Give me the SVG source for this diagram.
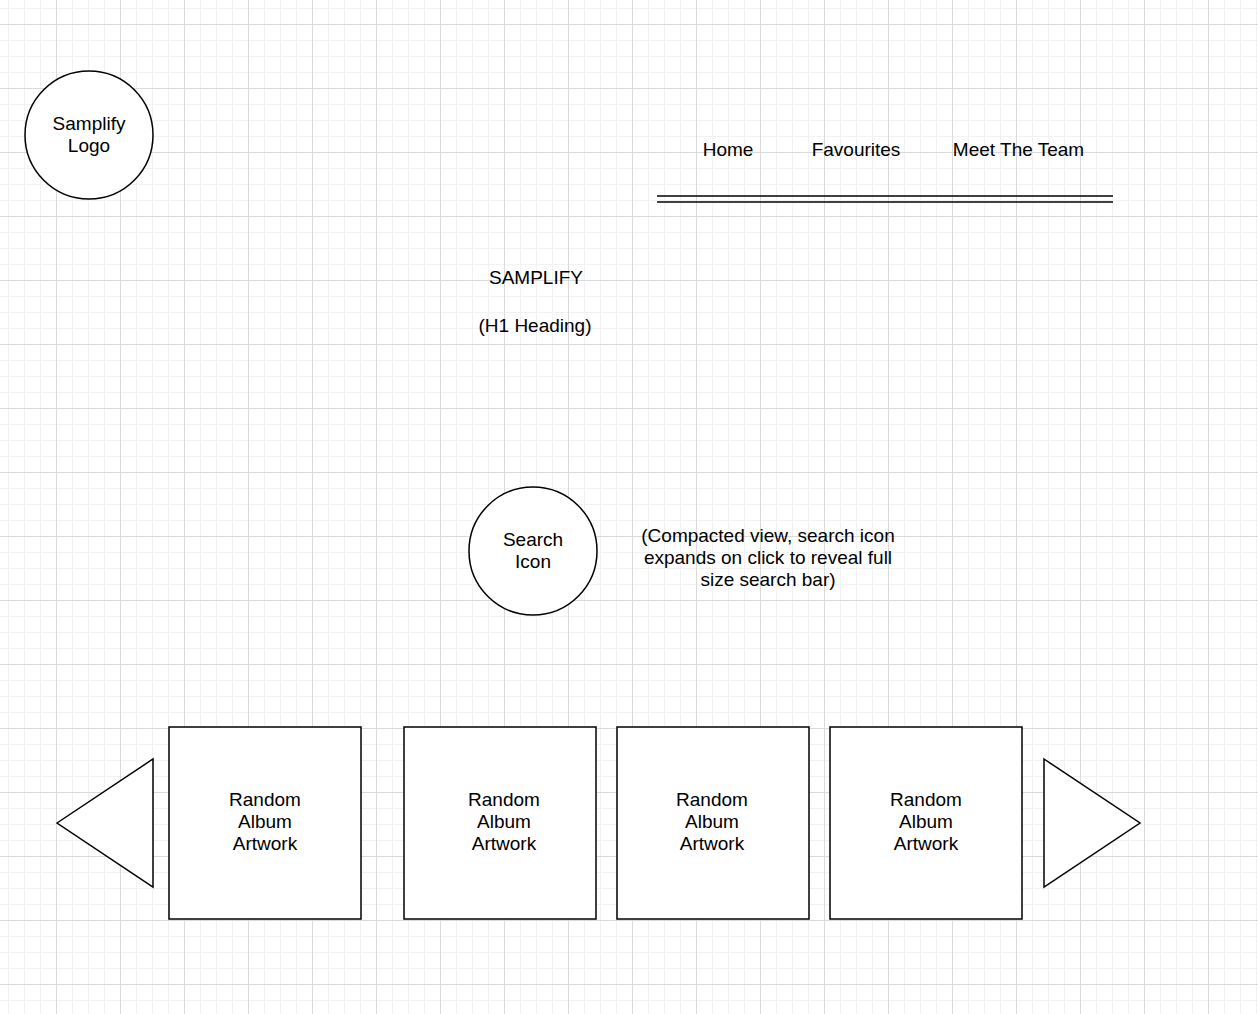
<svg xmlns="http://www.w3.org/2000/svg" width="1258" height="1014" viewBox="0 0 1258 1014">
<defs>
<pattern id="grid" patternUnits="userSpaceOnUse" x="56" y="24" width="64" height="64">
<rect x="0" y="0" width="64" height="64" fill="#ffffff"/>
<rect x="16" y="0" width="1" height="64" fill="#f2f2f2"/>
<rect x="32" y="0" width="1" height="64" fill="#f2f2f2"/>
<rect x="48" y="0" width="1" height="64" fill="#f2f2f2"/>
<rect x="0" y="16" width="64" height="1" fill="#f2f2f2"/>
<rect x="0" y="32" width="64" height="1" fill="#f2f2f2"/>
<rect x="0" y="48" width="64" height="1" fill="#f2f2f2"/>
<rect x="0" y="0" width="1" height="64" fill="#dadada"/>
<rect x="0" y="0" width="64" height="1" fill="#dadada"/>
</pattern>
<style>
.s{fill:#ffffff;stroke:#000000;stroke-width:1.5}
.l{fill:none;stroke:#000000;stroke-width:1.5}
text{font-family:"Liberation Sans",Arial,Helvetica,sans-serif;font-size:19px;fill:#000000;text-anchor:middle}
</style>
</defs>
<rect x="0" y="0" width="1258" height="1014" fill="url(#grid)"/>

<g id="logo">
<circle class="s" cx="89" cy="135" r="64"/>
<text x="89" y="129.5">Samplify</text>
<text x="89" y="151.5">Logo</text>
</g>

<g id="nav-home"><text x="728" y="156">Home</text></g>
<g id="nav-favourites"><text x="856" y="156">Favourites</text></g>
<g id="nav-team"><text x="1018.5" y="156">Meet The Team</text></g>

<g id="nav-underline">
<line class="l" x1="657" y1="196" x2="1113" y2="196"/>
<line class="l" x1="657" y1="202" x2="1113" y2="202"/>
</g>

<g id="heading">
<text x="536" y="284">SAMPLIFY</text>
<text x="535" y="332">(H1 Heading)</text>
</g>

<g id="search-icon">
<circle class="s" cx="533" cy="551" r="64"/>
<text x="533" y="546">Search</text>
<text x="533" y="568">Icon</text>
</g>

<g id="search-note">
<text x="768" y="542">(Compacted view, search icon</text>
<text x="768" y="564">expands on click to reveal full</text>
<text x="768" y="586">size search bar)</text>
</g>

<g id="arrow-left">
<polygon class="s" points="57,823 153,759 153,887"/>
</g>

<g id="album-1">
<rect class="s" x="169" y="727" width="192" height="192"/>
<text x="265" y="806">Random</text>
<text x="265" y="828">Album</text>
<text x="265" y="850">Artwork</text>
</g>
<g id="album-2">
<rect class="s" x="404" y="727" width="192" height="192"/>
<text x="504" y="806">Random</text>
<text x="504" y="828">Album</text>
<text x="504" y="850">Artwork</text>
</g>
<g id="album-3">
<rect class="s" x="617" y="727" width="192" height="192"/>
<text x="712" y="806">Random</text>
<text x="712" y="828">Album</text>
<text x="712" y="850">Artwork</text>
</g>
<g id="album-4">
<rect class="s" x="830" y="727" width="192" height="192"/>
<text x="926" y="806">Random</text>
<text x="926" y="828">Album</text>
<text x="926" y="850">Artwork</text>
</g>

<g id="arrow-right">
<polygon class="s" points="1044,759 1140,823 1044,887"/>
</g>

<g id="connectors"></g>
</svg>
